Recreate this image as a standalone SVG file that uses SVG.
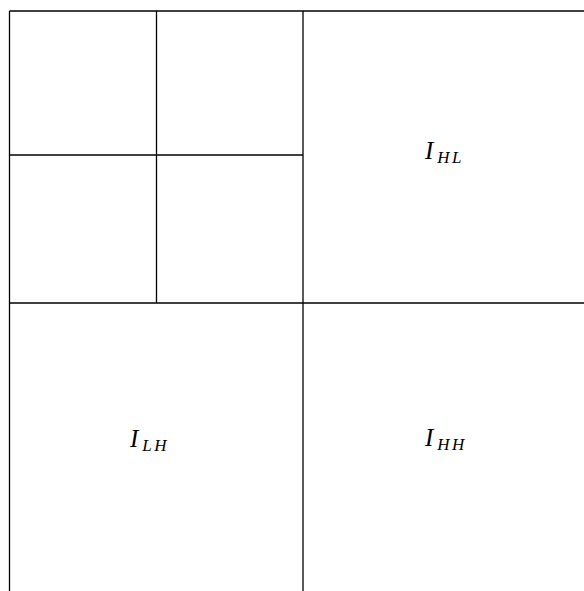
<svg xmlns="http://www.w3.org/2000/svg" width="584" height="591" viewBox="0 0 584 591">
<style>
.ln{stroke:#000;stroke-width:1.3;fill:none}
.lb{font-family:"Liberation Serif",serif;font-style:italic;font-size:25px;fill:#000}
.sb{font-size:17px;letter-spacing:2.5px}
</style>
<rect width="584" height="591" fill="#fff"/>
<g id="connectors">
<line class="ln" x1="9.5" y1="11" x2="584" y2="11"/>
<line class="ln" x1="9.5" y1="11" x2="9.5" y2="591"/>
<line class="ln" x1="303" y1="11" x2="303" y2="591"/>
<line class="ln" x1="156.5" y1="11" x2="156.5" y2="303"/>
<line class="ln" x1="9.5" y1="155" x2="303" y2="155"/>
<line class="ln" x1="9.5" y1="303" x2="584" y2="303"/>
</g>
<g id="node-HL"><text class="lb" x="425" y="159">I<tspan class="sb" dx="4" dy="4">HL</tspan></text></g>
<g id="node-LH"><text class="lb" x="130" y="447">I<tspan class="sb" dx="4" dy="4">LH</tspan></text></g>
<g id="node-HH"><text class="lb" x="425" y="446">I<tspan class="sb" dx="4" dy="4">HH</tspan></text></g>
</svg>
